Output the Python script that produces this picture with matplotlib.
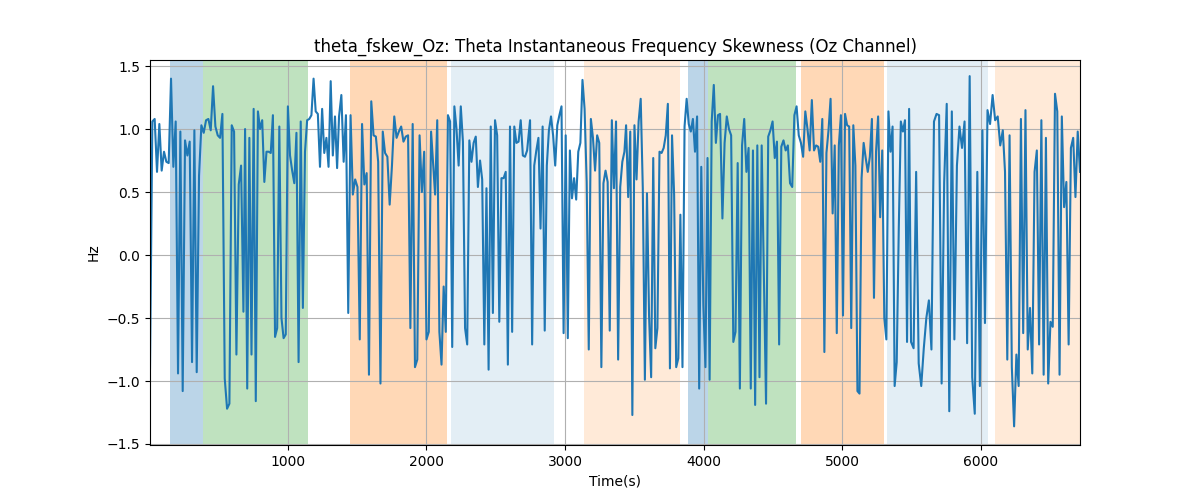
"""
theta_fskew_Oz 时间序列图：各段状态背景着色 + 瞬时频率偏度曲线
"""

import numpy as np
import matplotlib
matplotlib.use("Agg")  # 无 GUI
import matplotlib.pyplot as plt

# ========== 数据 ==========

# 每段 (起始时间, 结束时间) 以及该段内的采样值
seg_bounds = [
    (6, 680), (692, 1356), (1370, 2034), (2063, 2727), (2748, 3429),
    (3441, 4119), (4136, 4797), (4812, 5483), (5497, 6159), (6175, 6716),
]

seg1 = [-0.90, 1.06, 1.08, 0.66, 1.04, 0.67, 0.82, 0.74, 0.73, 1.40, 0.70, 1.06, -0.94, 0.98,
        -1.08, 0.91, 0.79, 0.90, -0.85, 0.99, -0.93, 0.63, 1.03, 0.97, 1.07, 1.08, 0.99, 1.34,
        1.02, 0.95, 0.93, 1.12, -0.98, -1.22, -1.18, 1.03, 0.98, -0.79, 0.56, 0.71, -0.45]
seg2 = [1.00, -1.06, 0.93, -0.79, 1.16, -1.16, 1.14, 1.00, 1.07, 0.58, 0.82, 0.82, 0.81, 1.11,
        -0.65, -0.58, 1.02, -0.50, -0.66, -0.63, 1.18, 0.79, 0.67, 0.57, 0.97, -0.85, 1.06, -0.42,
        0.82, 1.07, 1.08, 1.11, 1.40, 1.14, 1.12, 0.70, 1.16, 0.81, 0.93, 0.70, 1.38, 0.79, 1.10,
        0.69]
seg3 = [1.10, 1.27, 0.74, 1.11, -0.46, 1.11, 0.48, 0.60, 0.54, -0.67, 1.04, 0.56, 0.65, -0.95,
        1.22, 0.95, 0.94, 0.74, -1.02, 0.98, 0.81, 0.78, 0.40, 0.71, 1.10, 0.93, 0.98, 1.02, 0.90,
        0.94, 0.95, -0.58, 1.04, -0.89, -0.83, 0.95, 0.50, 0.82, -0.67, -0.61, 0.98]
seg4 = [0.48, 1.07, -0.61, -0.87, -0.25, -0.61, 1.11, 1.06, -0.73, 1.18, 1.00, 0.71, 1.18, 0.90,
        -0.58, -0.71, 0.91, 0.74, 0.89, 0.94, 0.54, 0.75, 0.60, -0.71, 0.53, -0.91, 1.02, -0.46,
        1.07, 0.95, -0.53, 0.61, 0.61, 0.66, -0.87, 1.02, -0.61, 1.02, 0.89, 0.90, 1.07, 0.79,
        0.78, 0.83]
seg5 = [1.07, -0.71, 0.71, 0.83, 0.93, 0.21, 1.02, -0.60, 0.71, 0.99, 1.10, 0.95, 0.71, 1.03,
        1.11, 1.18, -0.62, 0.95, -0.66, 0.83, 0.45, 0.61, 0.44, 0.82, 0.89, 1.39, 1.16, 0.58,
        -0.75, 1.08, 0.93, 0.67, 0.95, 0.89, -0.89, 0.57, 0.67, 0.58, -0.60, 1.07, 0.53, 1.06,
        -0.83, 0.54, 0.74, 0.82]
seg6 = [1.03, 0.46, 0.98, -1.27, 1.03, 0.60, 1.06, 1.24, 0.53, -0.99, 0.49, -0.48, -0.97, 0.77,
        -0.74, -0.58, 0.82, 0.81, 0.85, 0.95, 1.20, -0.90, 0.95, 0.48, -0.89, -0.82, 0.32, -0.89,
        1.02, 1.24, 1.04, 0.98, 1.08, 0.82, 1.10, -1.06, 0.70, -0.40, -0.89, 0.77, -0.99, 1.06,
        1.35, 0.89, 1.11, 1.12]
seg7 = [0.29, 0.89, 1.10, 1.00, 0.95, -0.69, -0.61, 0.73, -1.06, 0.87, 1.08, 0.66, 0.85, -1.06,
        0.83, -1.19, 0.87, -0.97, 0.87, -0.16, -1.18, 0.94, 0.99, 1.06, 0.77, 0.90, -0.71, 0.86,
        0.91, 0.83, 0.87, 0.57, 0.54, 1.11, 1.18, 0.95, 0.89, 0.78, 1.14, 1.00, 0.83, 1.23, 0.83]
seg8 = [0.87, 0.86, 0.74, 1.08, -0.77, 0.81, 0.99, 1.24, 0.33, 0.87, -0.62, 0.87, 1.11, -0.48,
        1.12, 1.03, 1.02, -0.58, 1.03, 0.71, -1.08, -1.10, 0.61, 0.89, 0.77, 0.66, 0.78, 1.08,
        -0.34, 0.82, 1.10, 0.30, 0.83, -0.50, -0.67, 1.14, 0.82, 1.02, -1.04, -0.85, 0.21, 1.06,
        0.98, 1.07, -0.69, 1.16]
seg9 = [-0.69, -0.74, 0.66, -0.86, -1.04, -0.74, -0.50, -0.36, -0.75, 1.06, 1.12, 1.11, -1.02,
        0.58, 1.20, -1.24, 1.14, -0.67, 0.71, 1.02, 0.85, 1.06, -0.70, 1.42, -0.97, -1.26, 0.66,
        -1.04, 0.99, -0.54, 1.15, 1.04, 1.27, 1.07, 1.10, 0.87, 0.99]
seg10 = [0.66, -0.83, 0.95, -0.89, -1.36, -0.79, -1.04, 1.08, -0.62, 1.15, -0.75, -0.42, -0.94,
         0.66, 0.83, -0.71, 1.07, -0.95, 0.93, -1.02, -0.53, -0.57, 1.28, 1.14, -0.95, 1.10, 0.38,
         0.58, -0.71, 0.85, 0.93, 0.46, 0.98, 0.66]

segments = [seg1, seg2, seg3, seg4, seg5, seg6, seg7, seg8, seg9, seg10]

# 背景区间 (开始, 结束, 颜色, 透明度)
span_starts = [150, 390, 1450, 2175, 3135, 3890, 4030, 4705, 5325, 6105]
span_ends = [390, 1145, 2150, 2920, 3830, 4030, 4665, 5305, 6050, 6720]
span_colors = ["tab:blue", "tab:green", "tab:orange", "tab:blue", "tab:orange",
               "tab:blue", "tab:green", "tab:orange", "tab:blue", "tab:orange"]
span_alphas = [0.3, 0.3, 0.3, 0.12, 0.16, 0.3, 0.3, 0.3, 0.12, 0.16]

# ========== 组装时间轴 ==========

time_s = np.concatenate([np.linspace(a, b, len(s)) for (a, b), s in zip(seg_bounds, segments)])
values = np.concatenate([np.asarray(s) for s in segments])

# ========== 绘图 ==========

fig, ax = plt.subplots(figsize=(12, 5), dpi=100)

for x0, x1, c, a in zip(span_starts, span_ends, span_colors, span_alphas):
    ax.axvspan(x0, x1, color=c, alpha=a, lw=0)

ax.plot(time_s, values, color="tab:blue", lw=1.5)

ax.set_xlim(time_s.min(), time_s.max())
ax.set_ylim(-1.508, 1.548)
ax.set_yticks([-1.5, -1.0, -0.5, 0.0, 0.5, 1.0, 1.5])
ax.set_xlabel("Time(s)")
ax.set_ylabel("Hz")
ax.set_title("theta_fskew_Oz: Theta Instantaneous Frequency Skewness (Oz Channel)")
ax.grid(True)

plt.savefig("out.png", dpi=100)
plt.close()
